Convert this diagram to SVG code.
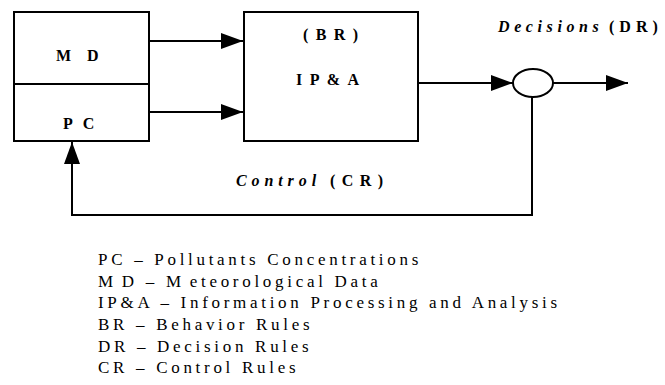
<svg xmlns="http://www.w3.org/2000/svg" width="665" height="385" viewBox="0 0 665 385">
<style>
.box{fill:#fff;stroke:#000;stroke-width:2}
.ln{fill:none;stroke:#000;stroke-width:2}
</style>
<defs>
<marker id="ah" viewBox="0 0 22 16" refX="22" refY="8" markerWidth="22" markerHeight="16" markerUnits="userSpaceOnUse" orient="auto">
<path d="M0,0 L22,8 L0,16 Z" fill="#000"/>
</marker>
</defs>
<g id="connectors">
<line class="ln" x1="149" y1="41" x2="243" y2="41" marker-end="url(#ah)"/>
<line class="ln" x1="149" y1="112" x2="243" y2="112" marker-end="url(#ah)"/>
<line class="ln" x1="418" y1="83" x2="513" y2="83" marker-end="url(#ah)"/>
<line class="ln" x1="553" y1="83" x2="628" y2="83" marker-end="url(#ah)"/>
<polyline class="ln" points="532,97 532,215 72,215 72,142" marker-end="url(#ah)"/>
</g>
<g font-family="Liberation Serif" font-weight="bold" font-size="16">
<g id="md-pc">
<rect class="box" x="14" y="12" width="135" height="129"/>
<line class="ln" x1="14" y1="84" x2="149" y2="84"/>
<text x="56" y="61" letter-spacing="16">MD</text>
<text x="63" y="129" letter-spacing="10">PC</text>
</g>
<g id="ipa">
<rect class="box" x="244" y="12" width="174" height="129"/>
<text x="303" y="40" letter-spacing="7.4">(BR)</text>
<text x="296" y="85" letter-spacing="7.4">IP&amp;A</text>
</g>
<g id="junction">
<ellipse class="box" cx="533" cy="83" rx="20" ry="14"/>
</g>
<g id="labels">
<text x="498" y="32" font-style="italic" letter-spacing="4.6">Decisions <tspan x="609" font-style="normal" letter-spacing="5">(DR)</tspan></text>
<text x="236" y="186" font-style="italic" letter-spacing="4.9">Control <tspan x="330" font-style="normal" letter-spacing="6.4">(CR)</tspan></text>
</g>
</g>
<g id="legend" font-family="Liberation Serif" font-size="17" letter-spacing="3.7">
<text x="98" y="265">PC – Pollutants Concentrations</text>
<text x="98" y="287">M<tspan dx="5">D</tspan> – M<tspan dx="5">eteorological</tspan> Data</text>
<text x="98" y="308">IP&amp;A – Information Processing and Analysis</text>
<text x="98" y="330">BR – Behavior Rules</text>
<text x="98" y="352">DR – Decision Rules</text>
<text x="98" y="373">CR – Control Rules</text>
</g>
</svg>
